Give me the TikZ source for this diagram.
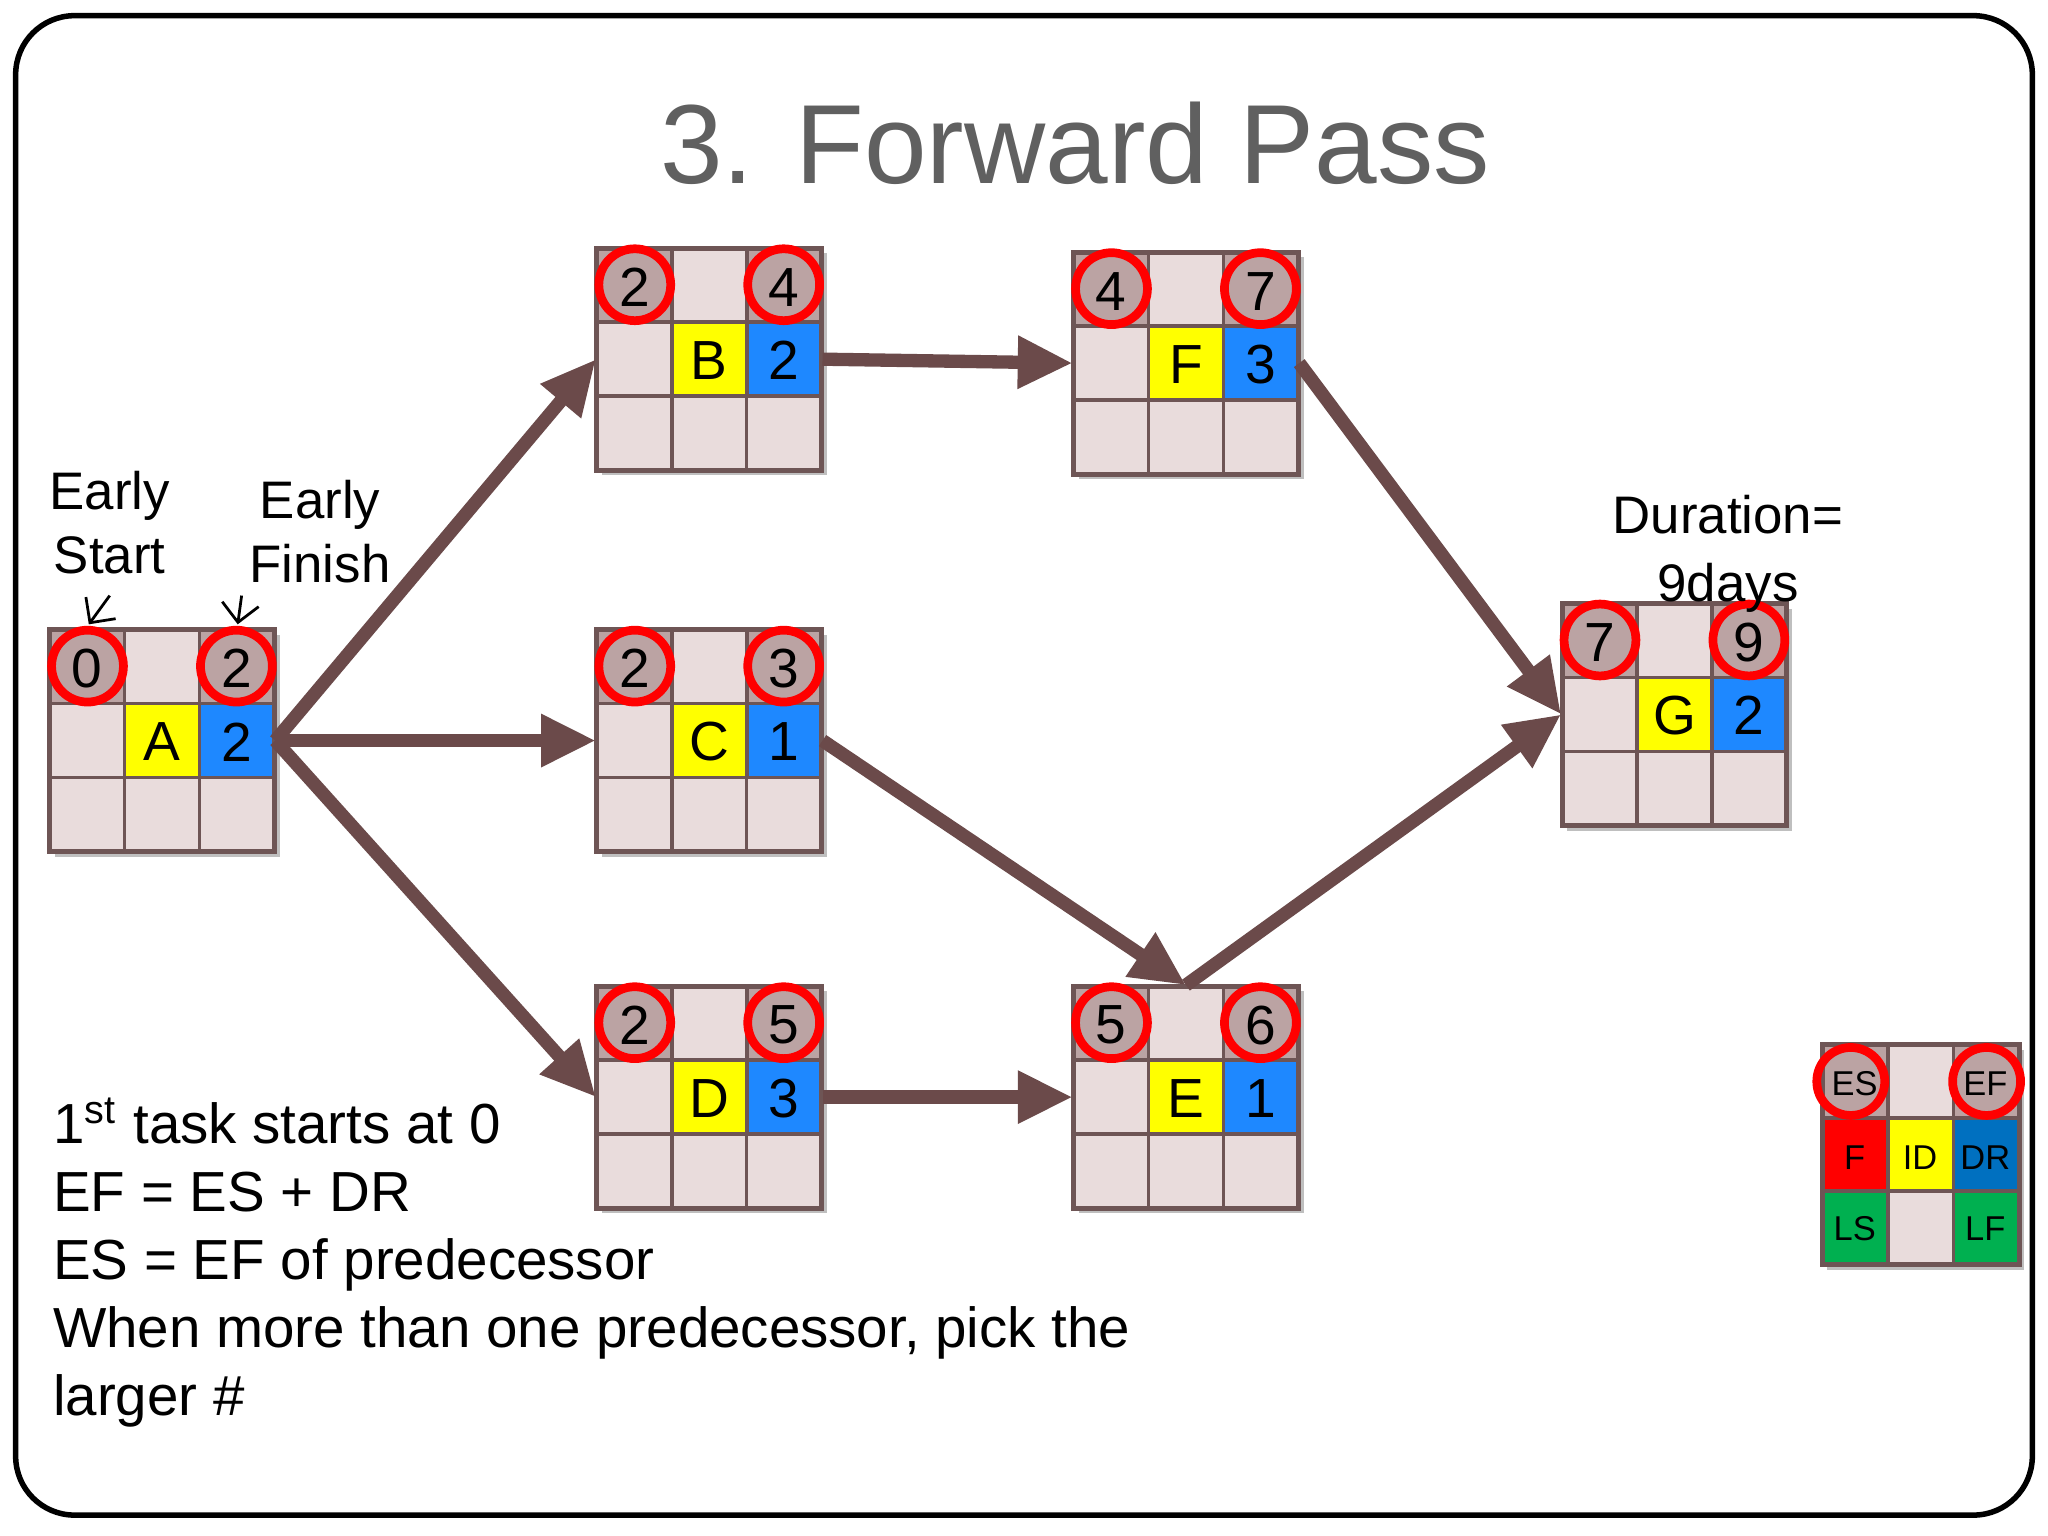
\documentclass[tikz,border=0pt]{standalone}
\usepackage{fontspec}
\setmainfont{Liberation Sans}
\usetikzlibrary{arrows.meta,calc}
\definecolor{topc}{HTML}{BBA3A3}
\definecolor{pinkc}{HTML}{E9DCDC}
\definecolor{edgec}{HTML}{6E5555}
\definecolor{bluec}{HTML}{1E88FF}
\definecolor{yel}{HTML}{FFFF00}
\definecolor{arr}{HTML}{6B4A4A}
\definecolor{ttl}{HTML}{606060}
\definecolor{legblue}{HTML}{0070C0}
\definecolor{leggreen}{HTML}{00B050}
\tikzset{
  x=0.01cm,y=-0.01cm,
  box/.style={minimum width=1.72cm,minimum height=1.70cm,inner sep=0,draw=none},
  cell/.style={draw=edgec,line width=0.8pt},
  circ/.style={draw=red,line width=1.9pt},
  num/.style={font=\fontsize{12}{13}\selectfont,inner sep=0},
  lnum/.style={font=\fontsize{7.5}{8}\selectfont,inner sep=0},
  flow/.style={arr,line width=2.9pt,-{Triangle[length=0.42cm,width=0.38cm]},shorten >=0pt},
  lbl/.style={font=\fontsize{11.5}{14}\selectfont,align=center,inner sep=0},
}
\newcommand\tbox[7]{%
  \fill[black!25] (#2+4,#3+4) rectangle (#2+176,#3+174);
  \node[box] (#1) at (#2+86,#3+85) {};
  \foreach \r in {0,1,2}{\foreach \c in {0,1,2}{
    \draw[cell,fill=pinkc] (#2+\c*57.33,#3+\r*56.67) rectangle ++(57.33,56.67);}}
  \draw[cell,fill=topc] (#2,#3) rectangle ++(57.33,56.67);
  \draw[cell,fill=topc] (#2+114.67,#3) rectangle ++(57.33,56.67);
  \draw[cell,fill=yel] (#2+57.33,#3+56.67) rectangle ++(57.33,56.67);
  \draw[cell,fill=bluec] (#2+114.67,#3+56.67) rectangle ++(57.33,56.67);
  \draw[cell,line width=1.1pt] (#2,#3) rectangle ++(172,170);
  \draw[circ] (#2+29,#3+28) circle (0.275cm);
  \draw[circ] (#2+143,#3+28) circle (0.275cm);
  \node[num] at (#2+28.7,#3+30) {#4};
  \node[num] at (#2+143.3,#3+30) {#6};
  \node[num] at (#2+86,#3+86) {#5};
  \node[num] at (#2+143.3,#3+86) {#7};
}
\begin{document}
\begin{tikzpicture}
\useasboundingbox (0,0) rectangle (1568,1176);
\fill[white] (0,0) rectangle (1568,1176);
\draw[black,line width=1.2pt,rounded corners=0.45cm] (12,12) rectangle (1556,1160);
\node[text=ttl,font=\fontsize{24.5}{28}\selectfont] (title) at (823,110) {3. Forward Pass};

\tbox{A}{38}{482}{0}{A}{2}{2}
\tbox{B}{457}{190}{2}{B}{4}{2}
\tbox{C}{457}{482}{2}{C}{3}{1}
\tbox{D}{457}{755}{2}{D}{5}{3}
\tbox{F}{822}{193}{4}{F}{7}{3}
\tbox{E}{822}{755}{5}{E}{6}{1}
\tbox{G}{1196}{462}{7}{G}{9}{2}

\draw[flow] (A.east) -- (B.west);
\draw[flow] (A.east) -- (C.west);
\draw[flow] (A.east) -- (D.west);
\draw[flow] (B.east) -- (F.west);
\draw[flow] (F.east) -- (G.west);
\draw[flow] (C.east) -- (E.north);
\draw[flow] (E.north) -- (G.west);
\draw[flow] (D.east) -- (E.west);

\node[lbl] (es) at (84,400) {Early\\Start};
\node[lbl] (ef) at (245,407) {Early\\Finish};
\coordinate (esp) at (68,478);
\coordinate (efp) at (182,478);
\coordinate (ess) at (84,456);
\coordinate (efs) at (185,456);
\draw[-{Straight Barb[length=4pt]},line width=0.6pt] (ess) -- (esp);
\draw[-{Straight Barb[length=4pt]},line width=0.6pt] (efs) -- (efp);
\node[lbl,font=\fontsize{11.5}{15}\selectfont] (dur) at (1323,424) {Duration=\\9days};

\node[anchor=north west,align=left,inner sep=0,font=\fontsize{12.3}{14.8}\selectfont] (notes) at (40,840)
  {1\textsuperscript{st} task starts at 0\\EF = ES + DR\\ES = EF of predecessor\\When more than one predecessor, pick the\\larger \#};

% legend
\fill[black!25] (1399,804) rectangle (1550,972);
\foreach \r in {0,1,2}{\foreach \c in {0,1,2}{
  \draw[cell,fill=pinkc] (1395+\c*50.33,800+\r*56) rectangle ++(50.33,56);}}
\draw[cell,fill=topc] (1395,800) rectangle ++(50.33,56);
\draw[cell,fill=topc] (1495.67,800) rectangle ++(50.33,56);
\draw[cell,fill=red] (1395,856) rectangle ++(50.33,56);
\draw[cell,fill=yel] (1445.33,856) rectangle ++(50.33,56);
\draw[cell,fill=legblue] (1495.67,856) rectangle ++(50.33,56);
\draw[cell,fill=leggreen] (1395,912) rectangle ++(50.33,56);
\draw[cell,fill=leggreen] (1495.67,912) rectangle ++(50.33,56);
\draw[cell,line width=1.1pt] (1395,800) rectangle (1546,968);
\draw[circ] (1417,828) circle (0.26cm);
\draw[circ] (1521,828) circle (0.26cm);
\node[lnum] at (1420,830) {ES};
\node[lnum] at (1520,830) {EF};
\node[lnum] at (1420,886) {F};
\node[lnum] at (1470,886) {ID};
\node[lnum] at (1520,886) {DR};
\node[lnum] at (1420,941) {LS};
\node[lnum] at (1520,941) {LF};
\end{tikzpicture}
\end{document}
